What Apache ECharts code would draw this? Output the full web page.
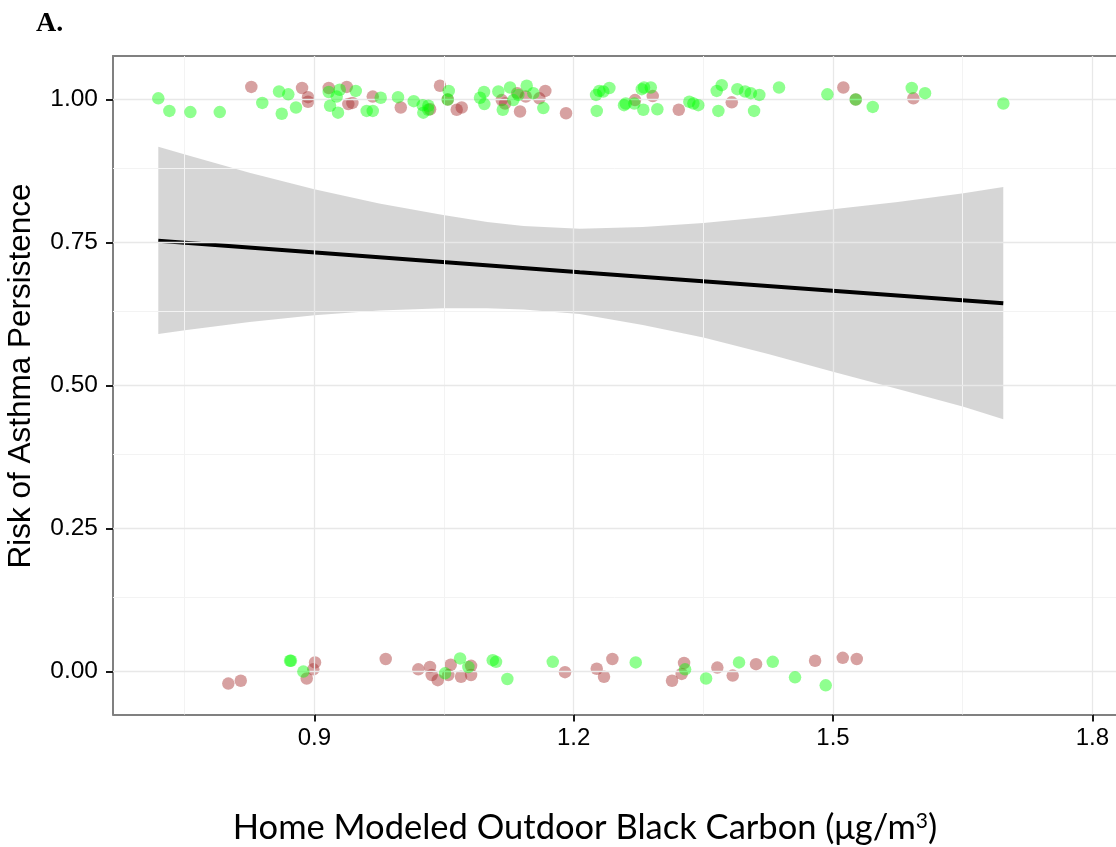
<!DOCTYPE html>
<html>
<head>
<meta charset="utf-8">
<title>Risk of Asthma Persistence vs Black Carbon</title>
<script src="https://cdn.jsdelivr.net/npm/echarts@6/dist/echarts.min.js"></script>
<style>
  html, body { margin: 0; padding: 0; background: #ffffff; }
  #chart { width: 1116px; height: 847px; }
</style>
</head>
<body>
<div id="chart"></div>
<script>
// Axis ranges and tick values
const xRange = [0.6671, 1.8274];
const yRange = [-0.075, 1.076];
const xTicks = [0.9, 1.2, 1.5, 1.8];
const xMinorTicks = [0.75, 1.05, 1.35, 1.65];
const yTicks = [0, 0.25, 0.5, 0.75, 1];
const yMinorTicks = [0.125, 0.375, 0.625, 0.875];

// Observations (jittered outcome), green group
const greenObs = [
  [0.7195, 1.002], [0.7323, 0.980], [0.7566, 0.978], [0.7906, 0.978], [0.8398, 0.994],
  [0.8592, 1.014], [0.8623, 0.975], [0.8699, 1.009], [0.8788, 0.986], [0.9167, 1.013],
  [0.9182, 0.989], [0.9274, 0.977], [0.9259, 1.005], [0.9294, 1.017], [0.9479, 1.015],
  [0.9606, 0.980], [0.9676, 0.980], [0.9768, 1.003], [0.9968, 1.004], [1.0150, 0.997],
  [1.0254, 0.990], [1.0261, 0.977], [1.0319, 0.989], [1.0319, 0.982], [1.0555, 1.015],
  [1.0543, 1.000], [1.0917, 1.003], [1.0963, 1.013], [1.0967, 0.992], [1.1129, 1.014],
  [1.1180, 0.982], [1.1264, 1.021], [1.1302, 0.999], [1.1360, 1.008], [1.1457, 1.024],
  [1.1534, 1.011], [1.1649, 0.985], [1.2267, 0.980], [1.2259, 1.008], [1.2297, 1.015],
  [1.2343, 1.014], [1.2413, 1.020], [1.2583, 0.990], [1.2603, 0.993], [1.2702, 0.993],
  [1.2788, 1.018], [1.2814, 1.021], [1.2892, 1.021], [1.2806, 0.982], [1.2968, 0.983],
  [1.3338, 0.996], [1.3385, 0.993], [1.3442, 0.990], [1.3655, 1.015], [1.3713, 1.025],
  [1.3674, 0.980], [1.3894, 1.018], [1.3983, 1.014], [1.4049, 1.011], [1.4148, 1.008],
  [1.4087, 0.980], [1.4376, 1.021], [1.4935, 1.009], [1.5263, 1.000], [1.5460, 0.987],
  [1.5911, 1.020], [1.6065, 1.011], [1.6971, 0.993],
  [0.8719, 0.019], [0.8730, 0.019], [0.8873, 0.000], [1.0512, -0.003], [1.0686, 0.023],
  [1.0782, 0.008], [1.1064, 0.020], [1.1102, 0.017], [1.1233, -0.013], [1.1758, 0.017],
  [1.2718, 0.016], [1.3289, 0.004], [1.3532, -0.012], [1.3913, 0.016], [1.4303, 0.017],
  [1.4561, -0.010], [1.4916, -0.024]
];

// Observations (jittered outcome), red group
const redObs = [
  [0.8271, 1.022], [0.8858, 1.020], [0.8927, 1.004], [0.8927, 0.996], [0.9167, 1.020],
  [0.9375, 1.022], [0.9393, 0.992], [0.9440, 0.994], [0.9676, 1.005], [1.0000, 0.986],
  [1.0339, 0.983], [1.0454, 1.024], [1.0543, 1.000], [1.0647, 0.982], [1.0705, 0.986],
  [1.1168, 0.999], [1.1206, 0.993], [1.1348, 1.011], [1.1380, 0.979], [1.1446, 1.005],
  [1.1603, 1.002], [1.1672, 1.015], [1.1912, 0.976], [1.2710, 0.999], [1.2915, 1.006],
  [1.3216, 0.982], [1.3829, 0.995], [1.5120, 1.021], [1.5263, 1.000], [1.5930, 1.002],
  [0.8005, -0.021], [0.8149, -0.016], [0.8912, -0.012], [0.8988, 0.004], [0.9008, 0.016],
  [0.9826, 0.022], [1.0203, 0.004], [1.0338, 0.008], [1.0358, -0.006], [1.0428, -0.015],
  [1.0550, -0.006], [1.0578, 0.012], [1.0697, -0.009], [1.0813, 0.010], [1.0813, -0.006],
  [1.1900, -0.001], [1.2267, 0.005], [1.2351, -0.009], [1.2448, 0.022], [1.3138, -0.016],
  [1.3250, -0.004], [1.3277, 0.015], [1.3662, 0.007], [1.3840, -0.007], [1.4110, 0.013],
  [1.4793, 0.019], [1.5113, 0.024], [1.5275, 0.022]
];

// Fitted risk and its confidence band
const fitLine = [[0.7195, 0.7532], [1.207, 0.698], [1.697, 0.6438]];
const bandX     = [0.7195, 0.7524, 0.825, 0.900, 0.975, 1.049, 1.100, 1.142, 1.207, 1.280, 1.350, 1.425, 1.500, 1.575, 1.651, 1.697];
const bandUpper = [0.9175, 0.903, 0.872, 0.843, 0.818, 0.798, 0.786, 0.779, 0.774, 0.777, 0.784, 0.795, 0.808, 0.821, 0.836, 0.847];
const bandLower = [0.590, 0.597, 0.611, 0.623, 0.631, 0.635, 0.635, 0.633, 0.625, 0.606, 0.584, 0.555, 0.524, 0.494, 0.463, 0.441];

const chart = echarts.init(document.getElementById('chart'), null, { renderer: 'canvas' });

const tickFont = '"Liberation Sans", Arial, Helvetica, sans-serif';
const frameLine = { show: true, onZero: false, lineStyle: { color: '#808080', width: 2 } };

const gridLines = [].concat(
  xMinorTicks.map(v => ({ xAxis: v, lineStyle: { color: '#f3f3f3', width: 1, type: 'solid' } })),
  yMinorTicks.map(v => ({ yAxis: v, lineStyle: { color: '#f3f3f3', width: 1, type: 'solid' } })),
  xTicks.map(v => ({ xAxis: v, lineStyle: { color: '#e8e8e8', width: 1.3, type: 'solid' } })),
  yTicks.map(v => ({ yAxis: v, lineStyle: { color: '#e8e8e8', width: 1.3, type: 'solid' } }))
);

const option = {
  animation: false,
  backgroundColor: '#ffffff',
  grid: { left: 113, top: 56, right: 0, bottom: 132.5, show: false },
  xAxis: [
    {
      type: 'value', min: xRange[0], max: xRange[1], position: 'bottom',
      axisLine: frameLine,
      axisTick: { show: true, customValues: xTicks, length: 7, lineStyle: { color: '#1a1a1a', width: 2 } },
      axisLabel: {
        customValues: xTicks, margin: 12, color: '#000', fontSize: 24, fontFamily: tickFont,
        formatter: v => v.toFixed(1)
      },
      splitLine: { show: false }
    },
    {
      type: 'value', min: xRange[0], max: xRange[1], position: 'top',
      axisLine: frameLine, axisTick: { show: false }, axisLabel: { show: false }, splitLine: { show: false }
    }
  ],
  yAxis: {
    type: 'value', min: yRange[0], max: yRange[1],
    axisLine: frameLine,
    axisTick: { show: true, customValues: yTicks, length: 7, lineStyle: { color: '#1a1a1a', width: 2 } },
    axisLabel: {
      customValues: yTicks, margin: 15, color: '#000', fontSize: 24.5, fontFamily: tickFont,
      formatter: v => v.toFixed(2)
    },
    splitLine: { show: false }
  },
  graphic: [
    {
      type: 'text', x: 36, y: 24,
      style: {
        text: 'A.', font: 'bold 28px "Liberation Serif", "Times New Roman", serif', fill: '#000',
        textAlign: 'left', textVerticalAlign: 'middle', align: 'left', verticalAlign: 'middle'
      }
    },
    {
      type: 'text', x: 21, y: 376, rotation: Math.PI / 2,
      style: {
        text: 'Risk of Asthma Persistence', font: '31.5px "Liberation Sans", Arial, sans-serif', fill: '#000',
        textAlign: 'center', textVerticalAlign: 'middle', align: 'center', verticalAlign: 'middle'
      }
    },
    {
      type: 'text', x: 585, y: 828,
      style: {
        text: '{n|Home Modeled Outdoor Black Carbon (μg/m}{s|3}{n|)}',
        textAlign: 'center', textVerticalAlign: 'middle', align: 'center', verticalAlign: 'middle',
        rich: {
          n: { fontSize: 34.5, fontFamily: 'Lato, "Open Sans", sans-serif', color: '#000' },
          s: { fontSize: 21, fontFamily: 'Lato, "Open Sans", sans-serif', color: '#000', verticalAlign: 'top' }
        }
      }
    }
  ],
  series: [
    {
      name: 'gridlines', type: 'line', data: [], z: 1, silent: true,
      markLine: {
        silent: true, symbol: ['none', 'none'], label: { show: false },
        emphasis: { disabled: true }, animation: false, data: gridLines
      }
    },
    {
      name: 'band', type: 'custom', z: 2, silent: true,
      data: bandX.map((x, i) => [x, bandLower[i], bandUpper[i]]),
      encode: { x: 0, y: [1, 2] },
      renderItem: function (params, api) {
        if (params.dataIndex !== 0) return null;
        const upper = bandX.map((x, i) => api.coord([x, bandUpper[i]]));
        const lower = bandX.map((x, i) => api.coord([x, bandLower[i]])).reverse();
        return {
          type: 'polygon',
          shape: { points: upper.concat(lower) },
          style: { fill: 'rgba(153,153,153,0.4)' }
        };
      }
    },
    {
      name: 'fit', type: 'line', data: fitLine, z: 3, silent: true,
      symbol: 'none', lineStyle: { color: '#000', width: 4 }
    },
    {
      name: 'red', type: 'scatter', data: redObs, z: 4, silent: true,
      symbolSize: 12.5, itemStyle: { color: 'rgba(165,42,42,0.55)', borderWidth: 0 }
    },
    {
      name: 'green', type: 'scatter', data: greenObs, z: 5, silent: true,
      symbolSize: 12.5, itemStyle: { color: 'rgba(0,255,0,0.55)', borderWidth: 0 }
    }
  ]
};

chart.setOption(option);
</script>
</body>
</html>
